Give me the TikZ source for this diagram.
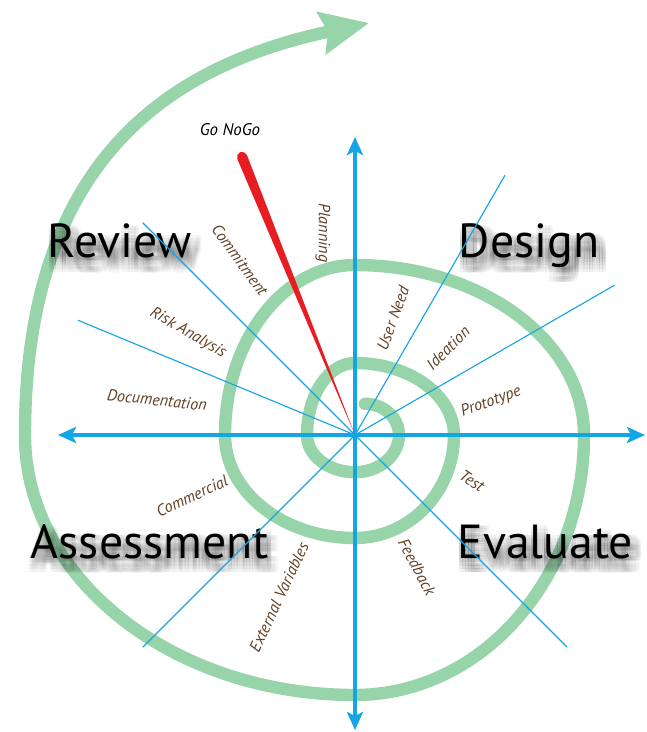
\documentclass[tikz,border=0pt]{standalone}
\usepackage{fontspec}
\setmainfont{PT Sans}
\usetikzlibrary{arrows.meta}

\definecolor{spiralgreen}{RGB}{152,212,170}
\definecolor{axisblue}{RGB}{20,165,227}
\definecolor{tagbrown}{RGB}{96,64,36}
\definecolor{nogored}{RGB}{230,30,36}

\begin{document}
\begin{tikzpicture}[
    axis/.style={draw=axisblue, line width=2.8pt, >={Stealth[length=4.5mm, width=4mm, inset=1mm]}, <->},
    ray/.style={draw=axisblue, line width=0.8pt},
    spiral/.style={draw=spiralgreen, line width=0.31cm, line cap=round},
    tag/.style={text=tagbrown, font=\itshape\fontsize{11.5}{13}\selectfont},
    phase/.style={font=\fontsize{34}{40}\selectfont, anchor=base},
    haze/.style={phase, text=black, opacity=0.045}
]
    \useasboundingbox (-8.875,-7.425) rectangle (7.3,10.875);

    % Spiral, from the inside out, quarter by quarter
    \draw[spiral, -{Stealth[length=12mm, width=10.5mm, inset=1.5mm]}] (0.25,0.78)
        arc[start angle=90, end angle=0, x radius=0.85, y radius=0.78]
        arc[start angle=0, end angle=-90, x radius=1.1, y radius=0.93]
        arc[start angle=-90, end angle=-180, x radius=1.2, y radius=0.93]
        arc[start angle=180, end angle=90, x radius=1.2, y radius=1.8]
        arc[start angle=90, end angle=0, x radius=2.475, y radius=1.8]
        arc[start angle=0, end angle=-90, x radius=2.475, y radius=2.575]
        arc[start angle=-90, end angle=-180, x radius=3.25, y radius=2.575]
        arc[start angle=180, end angle=90, x radius=3.25, y radius=4.25]
        arc[start angle=90, end angle=0, x radius=5.725, y radius=4.25]
        arc[start angle=0, end angle=-90, x radius=5.725, y radius=6.5]
        arc[start angle=-90, end angle=-180, x radius=8.25, y radius=6.5]
        .. controls (-8.25,6.8) and (-4.73,9.22) .. (0.35,10.3);

    % Phases, each with a soft shadow
    \foreach \n/\x/\y/\txt in {review/-5.875/4.425/Review, design/4.35/4.425/Design,
                               assessment/-5.125/-3.075/Assessment, evaluate/4.76/-3.075/Evaluate} {
        \foreach \dx [count=\i] in {-0.16,-0.08,0,0.08,0.16}
            \foreach \dy [count=\j] in {-0.16,-0.08,0,0.08,0.16}
                \node[haze] (\n-shadow-\i\j) at ({\x+0.1+\dx},{\y-0.2+\dy}) {\txt};
        \node[phase] (\n) at (\x,\y) {\txt};
    }

    % Rays
    \coordinate (c) at (0,0);
    \foreach \a [count=\i] in {60, 30, 135, 157.5, 225, -45} {
        \coordinate (ray\i) at (\a:7.5);
        \draw[ray] (c) -- (ray\i);
    }

    % Axes
    \coordinate (west) at (-7.425,0);
    \coordinate (east) at (7.25,0);
    \coordinate (north) at (0,7.45);
    \coordinate (south) at (0,-7.375);
    \draw[axis] (west) -- (east);
    \draw[axis] (south) -- (north);

    % Go/NoGo needle
    \fill[nogored, rotate=112.1] (0,0) -- (7.5,-0.13) arc[start angle=-90, end angle=90, radius=0.13] -- cycle;
    \node[font=\itshape\fontsize{12}{14}\selectfont] (gonogo) at (-3.125,7.625) {Go NoGo};

    % Steps
    \node[tag, rotate=-90] (planning) at (-0.8,5.05) {Planning};
    \node[tag, rotate=-54] (commitment) at (-2.875,4.375) {Commitment};
    \node[tag, rotate=-30] (risk) at (-4.175,2.55) {Risk Analysis};
    \node[tag, rotate=-6] (documentation) at (-4.95,0.875) {Documentation};
    \node[tag, rotate=70] (userneed) at (0.95,2.925) {User Need};
    \node[tag, rotate=45] (ideation) at (2.325,2.175) {Ideation};
    \node[tag, rotate=20] (prototype) at (3.4,0.825) {Prototype};
    \node[tag, rotate=-33] (test) at (2.925,-1.15) {Test};
    \node[tag, rotate=-62] (feedback) at (1.55,-3.3) {Feedback};
    \node[tag, rotate=65] (external) at (-1.9,-4.05) {External Variables};
    \node[tag, rotate=25] (commercial) at (-4.075,-1.525) {Commercial};
\end{tikzpicture}
\end{document}
